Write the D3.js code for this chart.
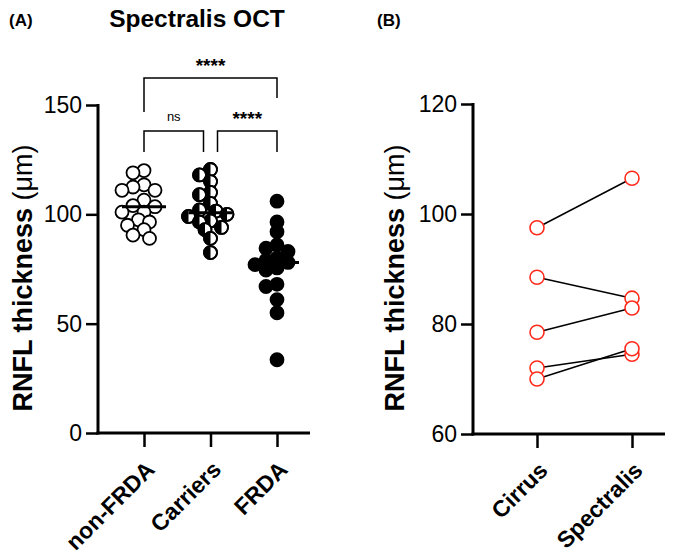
<!DOCTYPE html>
<html>
<head>
<meta charset="utf-8">
<script src="https://cdn.jsdelivr.net/npm/d3@7"></script>
<style>
  body { margin: 0; background: #fff; }
  svg { display: block; font-family: "Liberation Sans", Arial, sans-serif; }
</style>
</head>
<body>
<div id="chart"></div>
<script>
// Panel A data (RNFL thickness, Spectralis OCT)
const groupsA = ['non-FRDA', 'Carriers', 'FRDA'];
const nonFrda = [120, 119, 113.5, 112.5, 111, 111, 106.5, 104, 103.5, 101, 101, 97.5, 96.5, 95, 93, 90.5, 89];
const carriers = [120.5, 118, 115, 110, 109, 105, 102, 101.5, 100, 99, 97, 96.5, 94, 93, 89, 82.5];
const frda = [106, 96.5, 92, 86, 84.5, 83, 80, 79, 78, 77, 75.5, 74.5, 68, 67, 61, 55, 33.5];
const ticksA = [0, 50, 100, 150];

// Panel B data (paired Cirrus vs Spectralis)
const devicesB = ['Cirrus', 'Spectralis'];
const cirrus = [97.5, 88.5, 78.5, 72, 70];
const spectralis = [106.5, 84.7, 82.9, 74.5, 75.5];
const ticksB = [60, 80, 100, 120];

const width = 696, height = 560;
const svg = d3.select('#chart').append('svg')
    .attr('width', width)
    .attr('height', height);

const font = '"Liberation Sans", Arial, sans-serif';

function yLabel(x) {
  const t = svg.append('text')
      .attr('transform', 'translate(' + x + ',278) rotate(-90)')
      .attr('text-anchor', 'middle')
      .attr('font-size', 27)
      .attr('fill', '#000');
  t.append('tspan').attr('font-weight', 'bold').text('RNFL thickness ');
  t.append('tspan').attr('font-weight', 'normal').text('(μm)');
}

// ---------- panel A ----------
const axA = {left: 98, right: 310, top: 105, bottom: 433};
const yA = d3.scaleLinear().domain([0, 150]).range([axA.bottom, axA.top]);
const xA = d3.scalePoint().domain(groupsA).range([144, 277]);

const gA = svg.append('g');

gA.append('g')
    .attr('transform', 'translate(' + axA.left + ',0)')
    .call(d3.axisLeft(yA).tickValues(ticksA).tickSize(12).tickPadding(4))
    .call(g => g.select('.domain').remove())
    .call(g => g.selectAll('line').attr('stroke', '#000').attr('stroke-width', 2.5))
    .call(g => g.selectAll('text').attr('font-size', 23).attr('font-family', font).attr('fill', '#000'));

gA.append('g')
    .attr('transform', 'translate(0,' + axA.bottom + ')')
    .call(d3.axisBottom(xA).tickSize(14).tickFormat(''))
    .call(g => g.select('.domain').remove())
    .call(g => g.selectAll('line').attr('stroke', '#000').attr('stroke-width', 2.5));

gA.append('line')
    .attr('x1', axA.left).attr('x2', axA.left)
    .attr('y1', axA.top - 1).attr('y2', axA.bottom + 1.5)
    .attr('stroke', '#000').attr('stroke-width', 3);
gA.append('line')
    .attr('x1', axA.left - 1.5).attr('x2', axA.right)
    .attr('y1', axA.bottom).attr('y2', axA.bottom)
    .attr('stroke', '#000').attr('stroke-width', 3);

gA.selectAll('.xlabA')
    .data(groupsA)
    .join('text')
    .attr('class', 'xlabA')
    .attr('transform', d => 'translate(' + (xA(d) + 12) + ',' + (axA.bottom + 38) + ') rotate(-45)')
    .attr('text-anchor', 'end')
    .attr('font-size', 23)
    .attr('font-weight', 'bold')
    .attr('fill', '#000')
    .text(d => d);

// simple swarm layout computed from the values
function swarm(values, r, step, minD) {
  const placed = [];
  const sorted = values.slice().sort((a, b) => b - a);
  sorted.forEach(v => {
    const py = yA(v);
    for (let k = 0; k < 40; k++) {
      const off = (k % 2 === 0 ? 1 : -1) * Math.ceil(k / 2) * step;
      const ok = placed.every(p => Math.hypot(p.dx - off, p.py - py) >= minD);
      if (ok) { placed.push({v: v, py: py, dx: off}); break; }
    }
  });
  return placed;
}

const R = 6.5;
const seriesA = [
  {name: 'non-FRDA', values: nonFrda, style: 'open'},
  {name: 'Carriers', values: carriers, style: 'half'},
  {name: 'FRDA', values: frda, style: 'filled'}
];

const halfPath = d3.arc()({innerRadius: 0, outerRadius: R, startAngle: Math.PI, endAngle: 2 * Math.PI});

seriesA.forEach(s => {
  const pts = swarm(s.values, R, 5.5, 9);
  const g = gA.append('g');
  const marks = g.selectAll('g.pt')
      .data(pts)
      .join('g')
      .attr('class', 'pt')
      .attr('transform', d => 'translate(' + (xA(s.name) + d.dx) + ',' + d.py + ')');
  marks.append('circle')
      .attr('r', R)
      .attr('fill', s.style === 'filled' ? '#000' : '#fff')
      .attr('stroke', '#000')
      .attr('stroke-width', 1.8);
  if (s.style === 'half') {
    marks.append('path').attr('d', halfPath).attr('fill', '#000');
    marks.append('circle').attr('r', R).attr('fill', 'none').attr('stroke', '#000').attr('stroke-width', 1.8);
  }
  const med = d3.median(s.values);
  g.append('line')
      .attr('x1', xA(s.name) - 22).attr('x2', xA(s.name) + 22)
      .attr('y1', yA(med)).attr('y2', yA(med))
      .attr('stroke', '#000').attr('stroke-width', 3);
});

// significance brackets
function bracket(x1, x2, yTop, yLeft, yRight, label, bold) {
  gA.append('path')
      .attr('d', 'M' + x1 + ',' + yLeft + 'V' + yTop + 'H' + x2 + 'V' + yRight)
      .attr('fill', 'none').attr('stroke', '#000').attr('stroke-width', 1.5);
  gA.append('text')
      .attr('x', (x1 + x2) / 2)
      .attr('y', yTop - (bold ? 6 : 10))
      .attr('text-anchor', 'middle')
      .attr('font-size', bold ? 19 : 13)
      .attr('font-weight', bold ? 'bold' : 'normal')
      .attr('fill', '#000')
      .text(label);
}
bracket(xA('non-FRDA'), xA('Carriers') - 7, 131, 152, 152, 'ns', false);
bracket(xA('Carriers') + 7, xA('FRDA'), 131, 152, 152, '****', true);
bracket(xA('non-FRDA'), xA('FRDA'), 78, 112, 98, '****', true);

svg.append('text')
    .attr('x', 197).attr('y', 27)
    .attr('text-anchor', 'middle')
    .attr('font-size', 24.5).attr('font-weight', 'bold')
    .text('Spectralis OCT');
svg.append('text')
    .attr('x', 9).attr('y', 26)
    .attr('font-size', 17).attr('font-weight', 'bold')
    .text('(A)');

yLabel(32);

// ---------- panel B ----------
const axB = {left: 473, right: 665, top: 104, bottom: 434};
const yB = d3.scaleLinear().domain([60, 120]).range([axB.bottom, axB.top]);
const xB = d3.scalePoint().domain(devicesB).range([537, 632]);

const gB = svg.append('g');
gB.append('g')
    .attr('transform', 'translate(' + axB.left + ',0)')
    .call(d3.axisLeft(yB).tickValues(ticksB).tickSize(12).tickPadding(4))
    .call(g => g.select('.domain').remove())
    .call(g => g.selectAll('line').attr('stroke', '#000').attr('stroke-width', 2.5))
    .call(g => g.selectAll('text').attr('font-size', 23).attr('font-family', font).attr('fill', '#000'));

gB.append('g')
    .attr('transform', 'translate(0,' + axB.bottom + ')')
    .call(d3.axisBottom(xB).tickSize(14).tickFormat(''))
    .call(g => g.select('.domain').remove())
    .call(g => g.selectAll('line').attr('stroke', '#000').attr('stroke-width', 2.5));

gB.append('line')
    .attr('x1', axB.left).attr('x2', axB.left)
    .attr('y1', axB.top - 1).attr('y2', axB.bottom + 1.5)
    .attr('stroke', '#000').attr('stroke-width', 3);
gB.append('line')
    .attr('x1', axB.left - 1.5).attr('x2', axB.right)
    .attr('y1', axB.bottom).attr('y2', axB.bottom)
    .attr('stroke', '#000').attr('stroke-width', 3);

gB.selectAll('.xlabB')
    .data(devicesB)
    .join('text')
    .attr('class', 'xlabB')
    .attr('transform', d => 'translate(' + (xB(d) + 12) + ',' + (axB.bottom + 38) + ') rotate(-45)')
    .attr('text-anchor', 'end')
    .attr('font-size', 23)
    .attr('font-weight', 'bold')
    .attr('fill', '#000')
    .text(d => d);

const pairs = cirrus.map((c, i) => ({a: c, b: spectralis[i]}));
gB.selectAll('line.pair')
    .data(pairs)
    .join('line')
    .attr('class', 'pair')
    .attr('x1', xB('Cirrus')).attr('y1', d => yB(d.a))
    .attr('x2', xB('Spectralis')).attr('y2', d => yB(d.b))
    .attr('stroke', '#000').attr('stroke-width', 1.5);

gB.selectAll('circle.c')
    .data(cirrus)
    .join('circle')
    .attr('class', 'c')
    .attr('cx', xB('Cirrus')).attr('cy', d => yB(d))
    .attr('r', 7).attr('fill', '#fff').attr('stroke', '#ff2a1a').attr('stroke-width', 1.6);
gB.selectAll('circle.s')
    .data(spectralis)
    .join('circle')
    .attr('class', 's')
    .attr('cx', xB('Spectralis')).attr('cy', d => yB(d))
    .attr('r', 7).attr('fill', '#fff').attr('stroke', '#ff2a1a').attr('stroke-width', 1.6);

svg.append('text')
    .attr('x', 377).attr('y', 26)
    .attr('font-size', 17).attr('font-weight', 'bold')
    .text('(B)');

yLabel(404);
</script>
</body>
</html>
